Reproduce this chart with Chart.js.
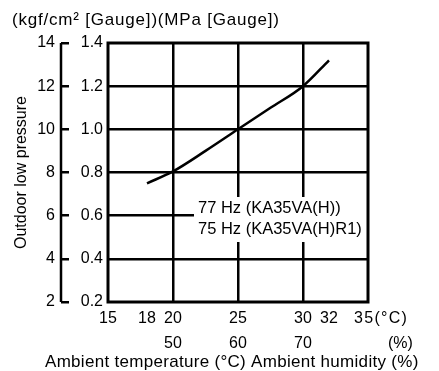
<!DOCTYPE html>
<html>
<head>
<meta charset="utf-8">
<script src="https://cdn.jsdelivr.net/npm/chart.js@4.4.1/dist/chart.umd.min.js"></script>
<style>
  body { margin: 0; background: #fff; }
  #wrap { width: 439px; height: 371px; }
</style>
</head>
<body>
<div id="wrap"><canvas id="graphCanvas" width="439" height="371"></canvas></div>
<script>
// values
var tempTicks = [15, 18, 20, 25, 30, 32, 35];
var humidityAt = [20, 25, 30];
var humidityLabels = ['50', '60', '70'];
var mpaTicks = [0.2, 0.4, 0.6, 0.8, 1.0, 1.2, 1.4];
var kgfTicks = [2, 4, 6, 8, 10, 12, 14];
var curveTemp = [18, 20, 22.5, 25, 27.5, 30, 32];
var curvePressure = [0.75, 0.805, 0.9, 1.0, 1.1, 1.2, 1.32];
var noteLines = ['77 Hz (KA35VA(H))', '75 Hz (KA35VA(H)R1)'];

var FONT = 'Arial, "Liberation Sans", sans-serif';
Chart.defaults.color = '#000';
Chart.defaults.font.family = FONT;
Chart.defaults.font.size = 16;

var points = [];
for (var i in curveTemp) {
    points.push({ x: curveTemp[i], y: curvePressure[i] });
}

function innerLine(v, list) {
    return list.indexOf(v) > 0 && list.indexOf(v) < list.length - 1;
}

var extras = {
    id: 'extras',
    afterDatasetsDraw: function (chart) {
        var c = chart.ctx, a = chart.chartArea;
        // note box covers the grid
        c.save();
        c.fillStyle = '#fff';
        c.fillRect(194, 197, a.right - 194 - 1, 45);
        c.fillStyle = '#000';
        c.font = '16.5px ' + FONT;
        c.textBaseline = 'middle';
        c.fillText(noteLines[0], 198, 208);
        c.fillText(noteLines[1], 198, 229);
        c.restore();
    },
    afterDraw: function (chart) {
        var c = chart.ctx, a = chart.chartArea;
        var x = chart.scales.x, y2 = chart.scales.y2;
        c.save();
        c.strokeStyle = '#000';
        c.lineWidth = 3;
        c.strokeRect(a.left, a.top, a.right - a.left, a.bottom - a.top);
        // outer axis spine
        c.lineWidth = 2.5;
        c.beginPath();
        c.moveTo(y2.right - 8, y2.getPixelForValue(14));
        c.lineTo(y2.right - 8, y2.getPixelForValue(2));
        c.stroke();
        c.fillStyle = '#000';
        c.textBaseline = 'middle';
        c.font = '17px ' + FONT;
        c.letterSpacing = '0.8px';
        c.fillText('(kgf/cm\u00b2 [Gauge])(MPa [Gauge])', 12, 20);
        c.font = '16px ' + FONT;
        c.letterSpacing = '1.3px';
        var p35 = x.getPixelForValue(35);
        c.fillText('35(\u00b0C)', p35 - 14, 318.5);
        c.letterSpacing = '0px';
        c.fillText('(%)', p35 + 20, 343.5);
        c.font = '17px ' + FONT;
        c.letterSpacing = '0.3px';
        c.fillText('Ambient temperature (\u00b0C) Ambient humidity (%)', 45, 362);
        c.restore();
    }
};

var graph = new Chart(document.getElementById('graphCanvas'), {
    type: 'scatter',
    data: {
        datasets: [{
            data: points,
            showLine: true,
            borderColor: '#000',
            borderWidth: 2.5,
            pointRadius: 0,
            cubicInterpolationMode: 'monotone',
            yAxisID: 'y'
        }]
    },
    options: {
        responsive: false,
        animation: false,
        devicePixelRatio: 1,
        layout: { padding: { top: 43, right: 71, bottom: 0, left: 0 } },
        plugins: { legend: { display: false }, tooltip: { enabled: false } },
        scales: {
            x: {
                type: 'linear',
                min: 15, max: 35,
                afterBuildTicks: function (s) { s.ticks = tempTicks.map(function (v) { return { value: v }; }); },
                afterFit: function (s) { s.height = 69; },
                border: { display: false },
                grid: {
                    drawTicks: false,
                    lineWidth: 2.5,
                    color: function (ctx) { return ctx.tick && humidityAt.indexOf(ctx.tick.value) >= 0 ? '#000' : 'rgba(0,0,0,0)'; }
                },
                ticks: {
                    autoSkip: false,
                    maxRotation: 0,
                    padding: 4,
                    font: { size: 16, lineHeight: 1.5625 },
                    callback: function (v) {
                        if (v === 35) return '';
                        var k = humidityAt.indexOf(v);
                        return k >= 0 ? [String(v), humidityLabels[k]] : String(v);
                    }
                }
            },
            y: {
                position: 'left',
                weight: 0,
                min: 0.2, max: 1.4,
                afterBuildTicks: function (s) { s.ticks = mpaTicks.map(function (v) { return { value: v }; }); },
                afterFit: function (s) { s.width = 39; },
                border: { display: false },
                grid: {
                    drawTicks: false,
                    lineWidth: 2.5,
                    color: function (ctx) { return ctx.tick && innerLine(ctx.tick.value, mpaTicks) ? '#000' : 'rgba(0,0,0,0)'; }
                },
                ticks: {
                    padding: 5,
                    callback: function (v) { return v.toFixed(1); }
                }
            },
            y2: {
                position: 'left',
                weight: 1,
                min: 2, max: 14,
                afterBuildTicks: function (s) { s.ticks = kgfTicks.map(function (v) { return { value: v }; }); },
                afterFit: function (s) { s.width = 69; },
                border: { display: false },
                grid: {
                    drawOnChartArea: false,
                    drawTicks: true,
                    tickLength: 8,
                    tickWidth: 2.5,
                    tickColor: '#000',
                    lineWidth: 2.5,
                    color: '#000'
                },
                ticks: { padding: 6 },
                title: {
                    display: true,
                    text: 'Outdoor low pressure',
                    font: { size: 16 },
                    padding: { top: 12, bottom: 0 }
                }
            }
        }
    },
    plugins: [extras]
});
</script>
</body>
</html>
